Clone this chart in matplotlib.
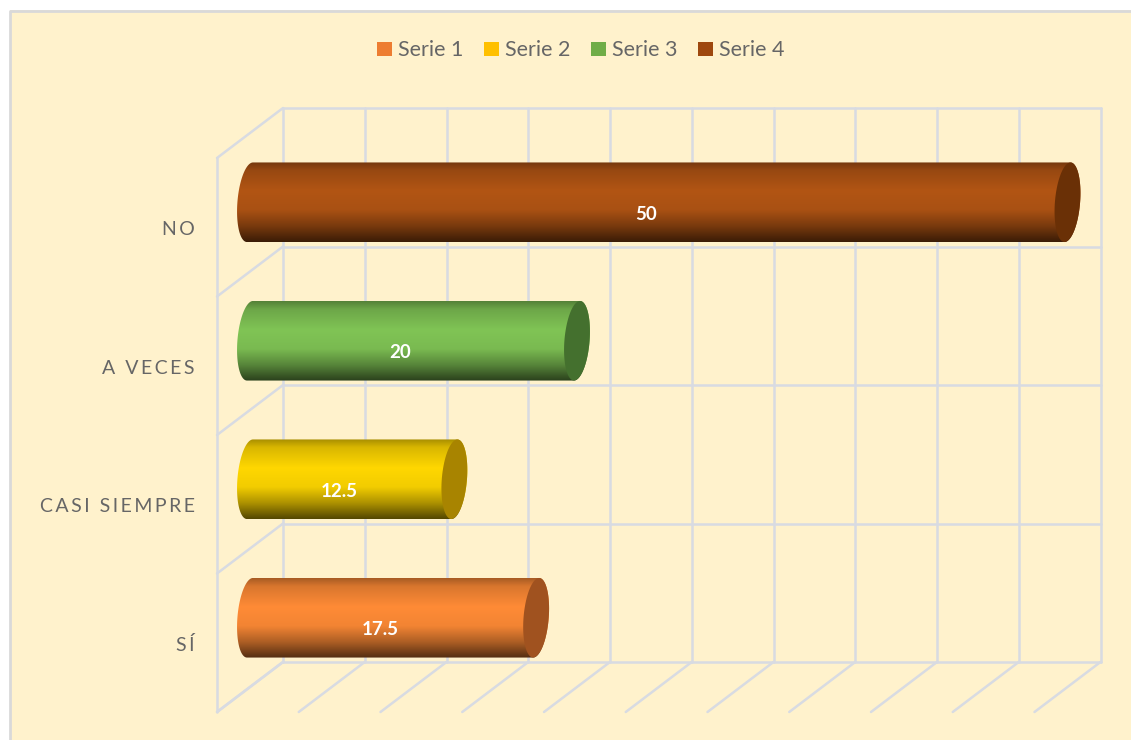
import numpy as np
import matplotlib
matplotlib.use("Agg")
import matplotlib.pyplot as plt
from matplotlib.patches import Rectangle, Polygon, Patch
from matplotlib.path import Path
from matplotlib.lines import Line2D
from matplotlib.transforms import Affine2D

categories = ["SÍ", "CASI SIEMPRE", "A VECES", "NO"]
values = [17.5, 12.5, 20, 50]
series_names = ["Serie 1", "Serie 2", "Serie 3", "Serie 4"]
legend_colors = ["#ed7d31", "#ffc000", "#70ad47", "#9e480e"]
body_colors = ["#ff8b36", "#ffd700", "#80c455", "#b25514"]
cap_colors = ["#a0521f", "#a88400", "#44702e", "#6a3006"]
x_ticks = list(range(0, 55, 5))

W, H = 1131, 740
CREAM = "#fff2cc"
GRID = "#d8dbe2"
TEXT = "#666666"
FONT = ["Lato", "DejaVu Sans"]
plt.rcParams["font.family"] = FONT


def space_out(s):
    return "\u2009".join(s)


fig = plt.figure(figsize=(W / 100, H / 100), dpi=100, facecolor="white")
fig.add_artist(Rectangle((10 / W, 0), 1 - 10 / W, 1 - 10 / H, transform=fig.transFigure,
                         facecolor=CREAM, edgecolor="none", zorder=-5))
fig.add_artist(Line2D([10 / W, 10 / W, 1], [0, 1 - 10.5 / H, 1 - 10.5 / H], transform=fig.transFigure,
                      color="#d9d9d9", lw=2.0, zorder=-4))

ax = fig.add_axes([217 / W, 1 - 712 / H, (1100.5 - 217) / W, (712 - 108) / H])
ax.patch.set_alpha(0)
for sp in ax.spines.values():
    sp.set_visible(False)

DX = 33 / 16.35   # depth of the 3D box, value units
DY = 25 / 138.5   # depth of the 3D box, category units
n = len(categories)
y_low, y_high = -0.5, n - 0.5

# walls
grid_kw = dict(color=GRID, lw=1.8, zorder=1, solid_capstyle="round", solid_joinstyle="round", clip_on=False)
for v in x_ticks:
    ax.plot([v + DX, v + DX], [y_low + DY, y_high + DY], **grid_kw)
    ax.plot([v + DX, v - DX], [y_low + DY, y_low - DY], **grid_kw)
for k in range(n + 1):
    yy = y_low + k
    ax.plot([0 + DX, 50 + DX], [yy + DY, yy + DY], **grid_kw)
    ax.plot([0 + DX, 0 - DX], [yy + DY, yy - DY], **grid_kw)
ax.plot([-DX, -DX], [y_low - DY, y_high - DY], **grid_kw)

# cylinders
A = 12.6 / 16.35
S = 3.0 / 16.35
B = 39.8 / 138.5
stops = [0.0, 0.10, 0.36, 0.60, 0.80, 1.0]
shade = [0.66, 0.85, 1.0, 0.95, 0.68, 0.33]
rows = np.linspace(0, 1, 128)
profile = np.interp(rows, stops, shade)


def rim(c, i, t0, t1):
    t = np.radians(np.linspace(t0, t1, 80))
    return np.column_stack([c + A * np.cos(t) + S * np.sin(t), i + B * np.sin(t)])


for i, v in enumerate(values):
    rgb = np.array(matplotlib.colors.to_rgb(body_colors[i]))
    img = (profile[:, None] * rgb[None, :])[:, None, :]
    im = ax.imshow(img, extent=(-1.5, v + 1.5, i - B, i + B), aspect="auto",
                   interpolation="bilinear", zorder=3)
    outline = np.vstack([rim(0, i, 90, 270), rim(v, i, 270, 450)])
    im.set_clip_path(Path(np.vstack([outline, outline[:1]]), closed=True), transform=ax.transData)
    ax.add_patch(Polygon(rim(v, i, 0, 360), closed=True, facecolor=cap_colors[i],
                         edgecolor="none", zorder=4))
    ax.annotate(f"{v:g}", xy=(v / 2, i), xytext=(-9.4, -8.8), textcoords="offset points",
                ha="center", va="center", color="white", fontsize=13.5, fontweight="bold", zorder=5)

ax.set_xlim(-DX, 50 + DX)
ax.set_ylim(y_low - DY, y_high + DY)
ax.set_xticks([])
ax.set_yticks(range(n))
ax.set_yticklabels([space_out(c) for c in categories], color=TEXT, fontsize=14)
ax.tick_params(axis="y", length=0, pad=16)
for lab in ax.get_yticklabels():
    lab.set_transform(lab.get_transform() + Affine2D().translate(0, -26))

handles = [Patch(facecolor=c, edgecolor="none") for c in legend_colors]
fig.legend(handles, series_names, loc="center", bbox_to_anchor=(581 / W, 1 - 50.5 / H), ncol=4,
           frameon=False, fontsize=15.5, labelcolor=TEXT, handlelength=0.68, handleheight=0.68,
           handletextpad=0.3, columnspacing=0.95)

fig.savefig("out.png", dpi=100)
